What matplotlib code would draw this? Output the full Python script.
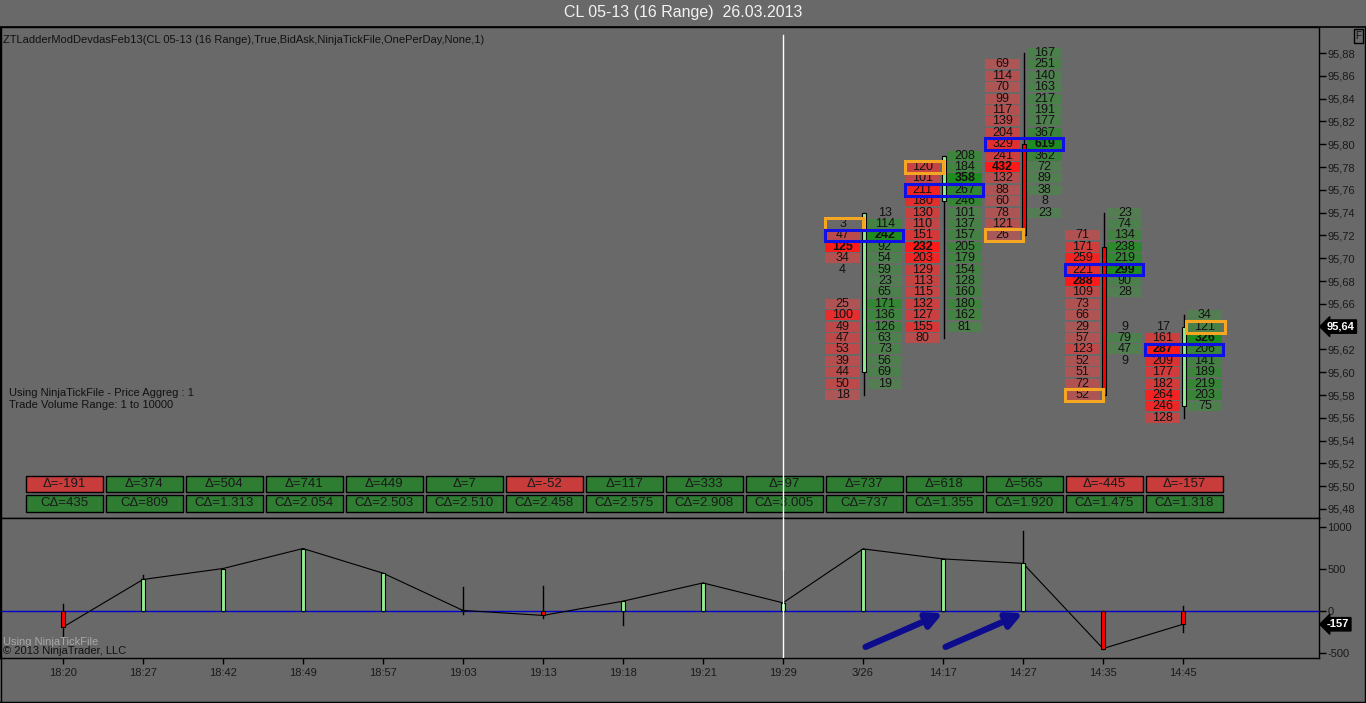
import matplotlib
matplotlib.use("Agg")
import matplotlib.pyplot as plt
import numpy as np
from matplotlib.patches import Rectangle
from matplotlib.lines import Line2D
from matplotlib.colors import to_rgb

plt.rcParams['font.family'] = ['Liberation Sans', 'DejaVu Sans']

# ---- data ----
times = ["18:20", "18:27", "18:42", "18:49", "18:57", "19:03", "19:13", "19:18",
         "19:21", "19:29", "3/26", "14:17", "14:27", "14:35", "14:45"]
delta = [-191, 374, 504, 741, 449, 7, -52, 117, 333, 97, 737, 618, 565, -445, -157]
cum_delta = [435, 809, 1313, 2054, 2503, 2510, 2458, 2575, 2908, 3005, 737, 1355, 1920, 1475, 1318]
delta_high = [86, 427, 504, 741, 449, 286, 298, 117, 333, 474, 737, 618, 953, 0, 63]
delta_low = [-298, 0, 0, 0, 0, -31, -82, -161, 0, 0, 0, 0, 0, -445, -243]

# price bars shown with ladder (index on time axis)
bar_idx = [10, 11, 12, 13, 14]
bar_open = [95.60, 95.75, 95.80, 95.71, 95.57]
bar_high = [95.74, 95.79, 95.88, 95.74, 95.65]
bar_low = [95.58, 95.63, 95.72, 95.58, 95.56]
bar_close = [95.74, 95.79, 95.72, 95.58, 95.64]

bid_top = [95.73, 95.78, 95.87, 95.72, 95.64]
ask_top = [95.74, 95.79, 95.88, 95.74, 95.65]
bid_vol = [
    [3, 47, 125, 34, 4, None, None, 25, 100, 49, 47, 53, 39, 44, 50, 18],
    [120, 101, 211, 180, 130, 110, 151, 232, 203, 129, 113, 115, 132, 127, 155, 80],
    [69, 114, 70, 99, 117, 139, 204, 329, 241, 432, 132, 88, 60, 78, 121, 26],
    [71, 171, 259, 221, 288, 109, 73, 66, 29, 57, 123, 52, 51, 72, 52],
    [17, 161, 287, 209, 177, 182, 264, 246, 128],
]
ask_vol = [
    [13, 114, 242, 92, 54, 59, 23, 65, 171, 136, 126, 63, 73, 56, 69, 19],
    [208, 184, 358, 267, 246, 101, 137, 157, 205, 179, 154, 128, 160, 180, 162, 81],
    [167, 251, 140, 163, 217, 191, 177, 367, 619, 362, 72, 89, 38, 8, 23],
    [23, 74, 134, 238, 219, 299, 90, 28, None, None, 9, 79, 47, 9],
    [34, 121, 326, 206, 141, 189, 219, 203, 75],
]
poc_price = [95.72, 95.76, 95.80, 95.69, 95.62]
open_mark_price = [95.73, 95.78, 95.72, 95.58, 95.64]
open_mark_side = ["bid", "bid", "bid", "bid", "ask"]

last_price = 95.64
last_delta = -157

BG = "#696969"
TICK = 0.01

W, H = 1366, 703
fig = plt.figure(figsize=(W / 100, H / 100), dpi=100, facecolor=BG)

def fx(px):
    return px / W

def fy(py):
    return 1 - py / H

x_left = -63 / 80
x_right = (1319 - 63) / 80

ax = fig.add_axes([0, fy(518), fx(1319), (518 - 27) / H], facecolor=BG)
axd = fig.add_axes([0, fy(658), fx(1319), (658 - 518) / H], facecolor=BG, sharex=ax)

ax.set_xlim(x_left, x_right)
ax.set_ylim(95.88 - (518 - 53) / 1140, 95.88 + (53 - 27) / 1140)
axd.set_ylim(-557, 1103)

for a in (ax, axd):
    for s in a.spines.values():
        s.set_color("black")
        s.set_linewidth(1)
    a.yaxis.tick_right()
    a.tick_params(axis="y", direction="out", length=5, width=1, colors="black",
                  labelsize=8, labelcolor="#1a1a1a", pad=1)

ax.set_yticks(np.arange(95.48, 95.881, 0.02))
ax.set_yticklabels([f"{v:.2f}".replace(".", ",") for v in np.arange(95.48, 95.881, 0.02)])
ax.tick_params(axis="x", length=0, labelbottom=False)

axd.set_yticks([-500, 0, 500, 1000])
axd.set_yticklabels(["-500", "0", "500", "1000"])
axd.set_xticks(range(len(times)))
axd.set_xticklabels(times)
axd.tick_params(axis="x", direction="out", length=4, width=1, colors="black",
                labelsize=8, labelcolor="#1a1a1a", pad=3)

# ---- ladder ----
bid_dim, bid_hot = np.array(to_rgb("#a65a5a")), np.array(to_rgb("#ff1a1a"))
ask_dim, ask_hot = np.array(to_rgb("#557d55")), np.array(to_rgb("#1e8c1e"))
cell_h = 0.0088

for k, xi in enumerate(bar_idx):
    for side, top, vols in (("bid", bid_top[k], bid_vol[k]), ("ask", ask_top[k], ask_vol[k])):
        vmax = max(v for v in vols if v is not None)
        if side == "bid":
            x0, x1, dim, hot = xi - 0.47, xi - 0.04, bid_dim, bid_hot
        else:
            x0, x1, dim, hot = xi + 0.055, xi + 0.49, ask_dim, ask_hot
        for j, v in enumerate(vols):
            if v is None:
                continue
            p = top - j * TICK
            if v >= 18:
                t = (v / vmax) ** 1.5
                col = dim + (hot - dim) * t
                ax.add_patch(Rectangle((x0, p - cell_h / 2), x1 - x0, cell_h,
                                       facecolor=col, edgecolor="none", zorder=2))
            ax.text((x0 + x1) / 2, p, str(v), ha="center", va="center", fontsize=9,
                    color="#111111", fontweight="bold" if v == vmax else "normal", zorder=5)

    # open marker (orange) and POC (blue)
    pm = open_mark_price[k]
    if open_mark_side[k] == "bid":
        ox0, ox1 = xi - 0.475, xi - 0.005
    else:
        ox0, ox1 = xi + 0.035, xi + 0.52
    ax.add_patch(Rectangle((ox0, pm - 0.0052), ox1 - ox0, 0.0104, fill=False,
                           edgecolor="#f5a623", linewidth=2.2, zorder=6))
    pp = poc_price[k]
    ax.add_patch(Rectangle((xi - 0.475, pp - 0.0051), 0.975, 0.0102, fill=False,
                           edgecolor="#1010e6", linewidth=2.2, zorder=6))

    # candle
    o, h, l, c = bar_open[k], bar_high[k], bar_low[k], bar_close[k]
    ax.plot([xi + 0.01, xi + 0.01], [l, h], color="black", lw=1, zorder=3)
    ax.add_patch(Rectangle((xi - 0.015, min(o, c)), 0.05, abs(c - o),
                           facecolor="#90ee90" if c > o else "#ff0000",
                           edgecolor="black", linewidth=0.8, zorder=4))

# delta boxes
tr = ax.get_xaxis_transform()
for i in range(len(times)):
    fc1 = "#2e7d32" if delta[i] >= 0 else "#c83c3c"
    ax.add_patch(Rectangle((i - 0.4625, 0.0536), 0.958, 0.0326, transform=tr,
                           facecolor=fc1, edgecolor="black", linewidth=1, zorder=4))
    ax.text(i + 0.017, 0.0699, f"Δ={delta[i]}", transform=tr, ha="center", va="center",
            fontsize=9.5, color="#1a1a1a", zorder=5)
    fc2 = "#2e7d32" if cum_delta[i] >= 0 else "#c83c3c"
    ax.add_patch(Rectangle((i - 0.4625, 0.0128), 0.958, 0.034, transform=tr,
                           facecolor=fc2, edgecolor="black", linewidth=1, zorder=4))
    ax.text(i + 0.017, 0.0298, "CΔ=" + f"{cum_delta[i]:,}".replace(",", "."), transform=tr,
            ha="center", va="center", fontsize=9.5, color="#1a1a1a", zorder=5)

# ---- delta panel ----
axd.axhline(0, color="#0000cc", lw=1, zorder=2)
xs = np.arange(len(delta))
axd.plot(xs, delta, color="black", lw=0.8, zorder=3)
for i in range(len(delta)):
    axd.plot([i, i], [delta_low[i], delta_high[i]], color="black", lw=1, zorder=3)
    axd.add_patch(Rectangle((i - 0.025, min(0, delta[i])), 0.05, abs(delta[i]),
                            facecolor="#90ee90" if delta[i] > 0 else "#ff0000",
                            edgecolor="black", linewidth=0.8, zorder=4))

for x0 in (10, 11):
    axd.annotate("", xy=(x0 + 1.03, -12), xytext=(x0, -439),
                 arrowprops=dict(arrowstyle="-|>,head_length=0.9,head_width=0.45",
                                 color="#0c0c8c", lw=4.5), zorder=6)

# crosshair
ax.axvline(9, ymax=(518 - 35) / 491, color="white", lw=1, zorder=7)
axd.axvline(9, color="white", lw=1, zorder=7)

# price badges
ax.text(1.006, last_price, "95,64", transform=ax.get_yaxis_transform(), ha="left", va="center",
        fontsize=8, color="white", fontweight="bold",
        bbox=dict(boxstyle="larrow,pad=0.15", fc="black", ec="black"), zorder=8, clip_on=False)
axd.text(1.006, last_delta, "-157", transform=axd.get_yaxis_transform(), ha="left", va="center",
         fontsize=8, color="white", fontweight="bold",
         bbox=dict(boxstyle="larrow,pad=0.15", fc="black", ec="black"), zorder=8, clip_on=False)

# ---- texts ----
fig.text(0.5, fy(13), "CL 05-13 (16 Range)  26.03.2013", ha="center", va="center",
         fontsize=11.5, color="#f2f2f2")
fig.text(fx(3), fy(40), "ZTLadderModDevdasFeb13(CL 05-13 (16 Range),True,BidAsk,NinjaTickFile,OnePerDay,None,1)",
         ha="left", va="center", fontsize=8, color="#111111")
fig.text(fx(9), fy(393), "Using NinjaTickFile - Price Aggreg : 1", ha="left", va="center",
         fontsize=8, color="#111111")
fig.text(fx(9), fy(405), "Trade Volume Range: 1 to 10000", ha="left", va="center",
         fontsize=8, color="#111111")
fig.text(fx(3), fy(642), "Using NinjaTickFile", ha="left", va="center", fontsize=8, color="#a8a8a8")
fig.text(fx(3), fy(651), "© 2013 NinjaTrader, LLC", ha="left", va="center", fontsize=8, color="#111111")
fig.text(fx(1358.5), fy(36), "F", ha="center", va="center", fontsize=7, color="#111111",
         bbox=dict(boxstyle="square,pad=0.2", fc=BG, ec="black", lw=1))

# frame lines
fig.add_artist(Line2D([0, 1], [fy(27), fy(27)], color="black", lw=1.2))
fig.add_artist(Line2D([fx(1365), fx(1365)], [fy(27), fy(702)], color="black", lw=1))
fig.add_artist(Line2D([0, fx(1366)], [fy(702), fy(702)], color="black", lw=1))
fig.add_artist(Line2D([fx(0.5), fx(0.5)], [fy(27), fy(702)], color="black", lw=1))

fig.savefig("out.png", dpi=100, facecolor=BG)
